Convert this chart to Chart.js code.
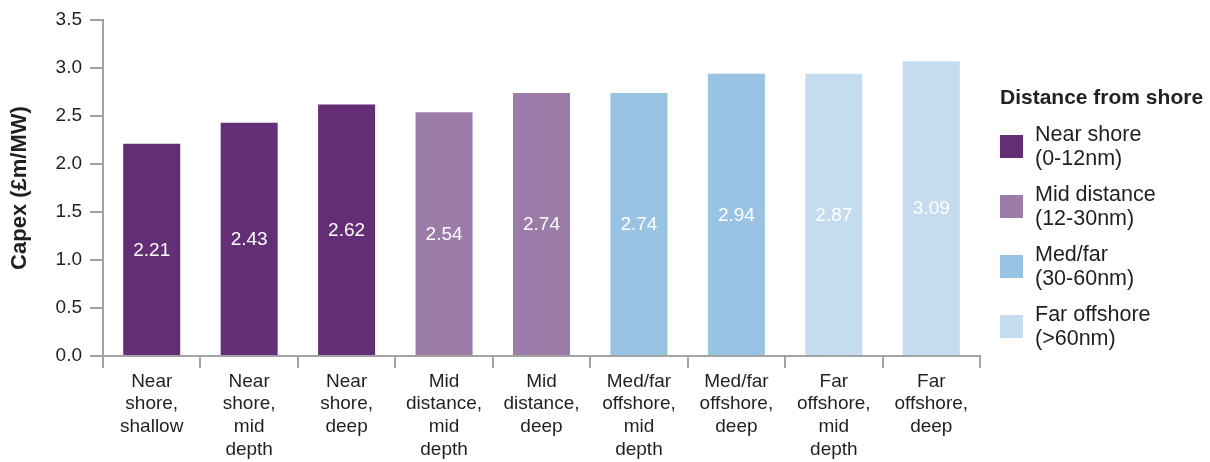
<!DOCTYPE html>
<html>
<head>
<meta charset="utf-8">
<script src="https://cdn.jsdelivr.net/npm/chart.js@4/dist/chart.umd.min.js"></script>
<style>
  html, body { margin: 0; padding: 0; background: #fff; }
  #wrap { position: relative; width: 1210px; height: 462px; font-family: 'Liberation Sans', Arial, sans-serif; }
  #legend { position: absolute; left: 1000px; top: 85px; color: #231f20; }
  .legend-title { font-weight: bold; font-size: 21px; line-height: 24px; margin-bottom: 13px; }
  .legend-item { display: flex; align-items: center; height: 48px; margin-bottom: 12px; }
  .legend-box { width: 23px; height: 23px; margin-right: 12px; flex: none; }
  .legend-text { font-size: 21.5px; line-height: 24px; }
</style>
</head>
<body>
<div id="wrap">
  <canvas id="chart" width="1210" height="462"></canvas>
  <div id="legend"></div>
</div>
<script>
// categories (multi-line tick labels)
const CATEGORIES = [
  ['Near', 'shore,', 'shallow'],
  ['Near', 'shore,', 'mid', 'depth'],
  ['Near', 'shore,', 'deep'],
  ['Mid', 'distance,', 'mid', 'depth'],
  ['Mid', 'distance,', 'deep'],
  ['Med/far', 'offshore,', 'mid', 'depth'],
  ['Med/far', 'offshore,', 'deep'],
  ['Far', 'offshore,', 'mid', 'depth'],
  ['Far', 'offshore,', 'deep']
];

// bar heights as drawn
const CAPEX = [2.21, 2.43, 2.62, 2.54, 2.74, 2.74, 2.94, 2.94, 3.07];
// value labels printed inside bars
const VALUE_LABELS = ['2.21', '2.43', '2.62', '2.54', '2.74', '2.74', '2.94', '2.87', '3.09'];
// distance group of each bar (index into legend)
const GROUP = [0, 0, 0, 1, 1, 2, 2, 3, 3];

const LEGEND_NAMES = ['Near shore', 'Mid distance', 'Med/far', 'Far offshore'];
const LEGEND_RANGES = ['(0-12nm)', '(12-30nm)', '(30-60nm)', '(>60nm)'];
const GROUP_COLORS = ['#632e76', '#9b7ba8', '#98c3e3', '#c5dbef'];

const Y_TICKS = [0, 0.5, 1.0, 1.5, 2.0, 2.5, 3.0, 3.5];

const AXIS_GREY = '#a3a3a3';
const TEXT = '#231f20';
const FONT = "'Liberation Sans', Arial, sans-serif";

// ─── value labels inside bars ───────────────────────
const barLabels = {
  id: 'barLabels',
  afterDatasetsDraw(chart) {
    const ctx = chart.ctx;
    const meta = chart.getDatasetMeta(0);
    ctx.save();
    ctx.fillStyle = '#ffffff';
    ctx.font = '19px ' + FONT;
    ctx.textAlign = 'center';
    ctx.textBaseline = 'middle';
    meta.data.forEach((bar, i) => {
      ctx.fillText(VALUE_LABELS[i], bar.x, (bar.y + bar.base) / 2 + 1);
    });
    ctx.restore();
  }
};

new Chart(document.getElementById('chart').getContext('2d'), {
  type: 'bar',
  data: {
    labels: CATEGORIES,
    datasets: [{
      data: CAPEX,
      backgroundColor: GROUP.map(g => GROUP_COLORS[g]),
      borderWidth: 0,
      barPercentage: 0.585,
      categoryPercentage: 1
    }]
  },
  options: {
    responsive: false,
    animation: false,
    layout: { padding: { top: 20, right: 230, left: 0, bottom: 0 } },
    plugins: { legend: { display: false }, tooltip: { enabled: false } },
    scales: {
      x: {
        grid: { offset: true, drawOnChartArea: false, tickLength: 12, color: AXIS_GREY, lineWidth: 2 },
        border: { color: AXIS_GREY, width: 2 },
        ticks: { color: TEXT, font: { family: FONT, size: 19, lineHeight: 1.2 }, padding: 2, maxRotation: 0, autoSkip: false },
        afterFit(scale) { scale.height = 106; }
      },
      y: {
        min: 0,
        max: 3.5,
        afterBuildTicks(scale) { scale.ticks = Y_TICKS.map(v => ({ value: v })); },
        grid: { drawOnChartArea: false, tickLength: 13, color: AXIS_GREY, lineWidth: 2 },
        border: { color: AXIS_GREY, width: 2 },
        ticks: { color: TEXT, font: { family: FONT, size: 19 }, padding: 8, callback: v => Number(v).toFixed(1) },
        title: { display: true, text: 'Capex (£m/MW)', color: TEXT, font: { family: FONT, size: 22, weight: 'bold' }, padding: { top: 7, bottom: 0 } },
        afterFit(scale) { scale.width = 103; }
      }
    }
  },
  plugins: [barLabels]
});

// ─── legend ───────────────────────────────
document.getElementById('legend').innerHTML =
  '<div class="legend-title">Distance from shore</div>' +
  LEGEND_NAMES.map((name, i) =>
    `<div class="legend-item"><span class="legend-box" style="background:${GROUP_COLORS[i]};"></span>` +
    `<span class="legend-text">${name}<br>${LEGEND_RANGES[i]}</span></div>`
  ).join('');
</script>
</body>
</html>
